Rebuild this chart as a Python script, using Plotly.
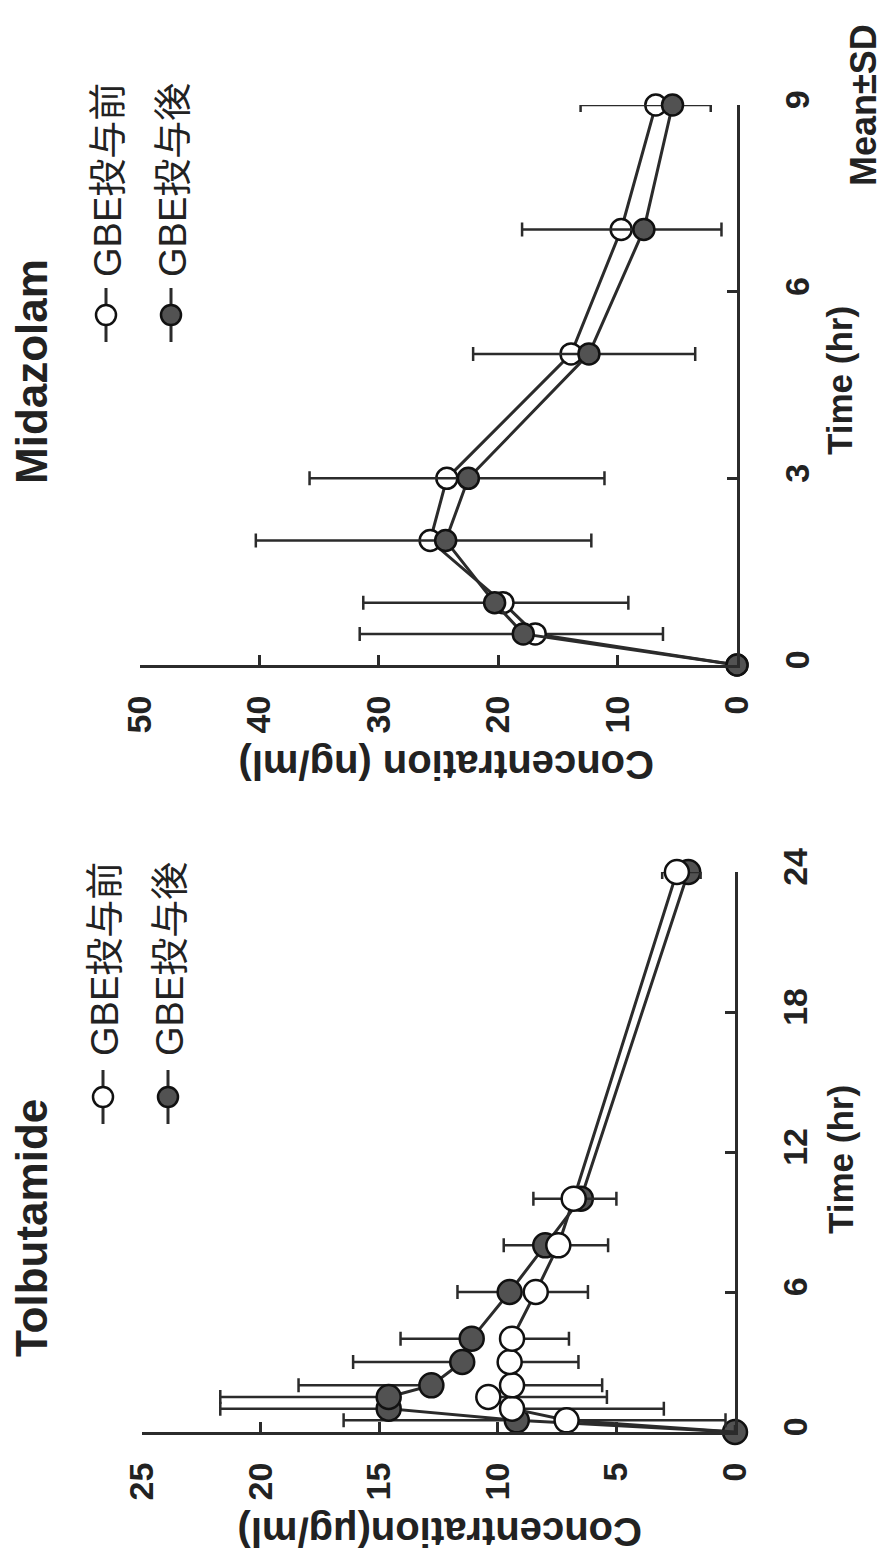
import plotly.graph_objects as go

W, H = 889, 1558

# ---------------- data ----------------
mid_time = [0, 0.5, 1, 2, 3, 5, 7, 9]
mid_before = [0, 16.9, 19.6, 25.7, 24.3, 13.9, 9.7, 6.8]
mid_before_sd = [0, 10.7, 10.5, 13.5, 13.2, 10.4, 8.4, 4.6]
mid_after = [0, 17.9, 20.3, 24.4, 22.5, 12.4, 7.8, 5.4]
mid_after_sd = [0, 13.7, 11.0, 15.9, 13.3, 9.7, 10.2, 7.7]

tol_time = [0, 0.5, 1, 1.5, 2, 3, 4, 6, 8, 10, 24]
tol_before = [0, 7.1, 9.4, 10.4, 9.4, 9.5, 9.4, 8.4, 7.45, 6.8, 2.45]
tol_before_sd = [0, 6.7, 6.4, 5.0, 3.8, 2.9, 2.4, 2.2, 2.1, 1.8, 1.0]
tol_after = [0, 9.2, 14.6, 14.6, 12.8, 11.5, 11.1, 9.5, 8.0, 6.5, 1.97]
tol_after_sd = [0, 7.3, 7.1, 7.1, 5.6, 4.6, 3.0, 2.2, 1.75, 2.0, 1.1]

mid_conc_ticks = [0, 10, 20, 30, 40, 50]
mid_time_ticks = [0, 3, 6, 9]
tol_conc_ticks = [0, 5, 10, 15, 20, 25]
tol_time_ticks = [0, 6, 12, 18, 24]

legend_labels = ["GBE投与前", "GBE投与後"]

# ---------------- style ----------------
INK = "#2b2b2b"
FILL = "#525252"
FONT = "Liberation Sans"
CJK = "Noto Sans CJK JP"


def px(x):
    return x / W


def py(y):
    return 1 - y / H


fig = go.Figure()


def add_series(t, c, sd, xa, ya, filled, size, hide_origin=False):
    zeros = [0] * len(sd)
    op = [0 if (hide_origin and v == 0) else 1 for v in c]
    if filled:
        err = dict(type="data", symmetric=False, array=sd, arrayminus=zeros,
                   color=INK, thickness=2.5, width=7)
        marker = dict(size=size, color=FILL, opacity=op, line=dict(color="#111", width=2.5))
    else:
        err = dict(type="data", symmetric=False, array=zeros, arrayminus=sd,
                   color=INK, thickness=2.5, width=7)
        marker = dict(size=size, color="white", opacity=op, line=dict(color="#111", width=2.5))
    fig.add_trace(go.Scatter(
        x=c, y=t, xaxis=xa, yaxis=ya, mode="lines+markers",
        line=dict(color=INK, width=3), marker=marker, error_x=err,
        cliponaxis=False, showlegend=False))


# Midazolam: open underneath, filled on top
add_series(mid_time, mid_before, mid_before_sd, "x", "y", False, 21)
add_series(mid_time, mid_after, mid_after_sd, "x", "y", True, 21)
# Tolbutamide: filled underneath, open on top (origin shows the filled dot)
add_series(tol_time, tol_after, tol_after_sd, "x2", "y2", True, 24)
add_series(tol_time, tol_before, tol_before_sd, "x2", "y2", False, 24, hide_origin=True)

tickfont = dict(family=FONT, size=34, color="#222", weight="bold")
common_x = dict(autorange=False, automargin=False, ticks="inside", ticklen=10, tickwidth=2.5,
                tickcolor=INK, showline=True, linewidth=3, linecolor=INK, showgrid=False,
                zeroline=False, tickangle=-90, tickfont=tickfont, ticklabelstandoff=14)
common_y = dict(autorange=False, automargin=False, ticks="inside", ticklen=10, tickwidth=2.5,
                tickcolor=INK, showline=True, linewidth=3, linecolor=INK, showgrid=False,
                zeroline=False, tickangle=-90, tickfont=tickfont, side="right",
                ticklabelstandoff=28)

fig.update_layout(
    template="none",
    width=W, height=H, margin=dict(l=0, r=0, t=0, b=0, pad=0, autoexpand=False),
    paper_bgcolor="white", plot_bgcolor="white", showlegend=False,
    xaxis=dict(domain=[px(140), px(737)], range=[50, 0], anchor="y",
               tickvals=mid_conc_ticks, **common_x),
    yaxis=dict(domain=[py(665), py(105)], range=[0, 9], anchor="x",
               tickvals=mid_time_ticks, **common_y),
    xaxis2=dict(domain=[px(142), px(735)], range=[25, 0], anchor="y2",
                tickvals=tol_conc_ticks, **common_x),
    yaxis2=dict(domain=[py(1432), py(872)], range=[0, 24], anchor="x2",
                tickvals=tol_time_ticks, **common_y),
)

ann = []


def text(s, x, y, size, angle, bold=True, family=FONT):
    ann.append(dict(text=s, x=px(x), y=py(y), xref="paper", yref="paper",
                    showarrow=False, textangle=angle, xanchor="center", yanchor="middle",
                    font=dict(family=family, size=size, color="#222",
                              weight="bold" if bold else "normal")))


text("Midazolam", 31, 372, 44, -90)
text("Tolbutamide", 31, 1228, 44, -90)
text("Time (hr)", 840, 381, 35, -90)
text("Time (hr)", 840, 1160, 35, -90)
text("Concentration (ng/ml)", 446, 765, 40, 180)
text("Concentration(μg/ml)", 440, 1532, 40, 180)
text("Mean±SD", 863, 105, 36, -90)

shapes = []


def legend_item(xc, ymark, ytext, label, filled):
    shapes.append(dict(type="line", xref="paper", yref="paper",
                       x0=px(xc), x1=px(xc), y0=py(ymark - 27), y1=py(ymark + 27),
                       line=dict(color=INK, width=3)))
    shapes.append(dict(type="circle", xref="paper", yref="paper",
                       x0=px(xc - 10), x1=px(xc + 10), y0=py(ymark + 10), y1=py(ymark - 10),
                       fillcolor=FILL if filled else "white",
                       line=dict(color="#111", width=2.5)))
    text(label, xc + 2, ytext, 38, -90, bold=False, family=f"{FONT}, {CJK}")


legend_item(106, 315, 180, legend_labels[0], False)
legend_item(171, 315, 180, legend_labels[1], True)
legend_item(103, 1097, 959, legend_labels[0], False)
legend_item(168, 1097, 959, legend_labels[1], True)

fig.update_layout(annotations=ann, shapes=shapes)
fig.write_html("out.html", config={"displayModeBar": False},
               post_script="document.body.style.margin='0';document.body.style.overflow='hidden';")
